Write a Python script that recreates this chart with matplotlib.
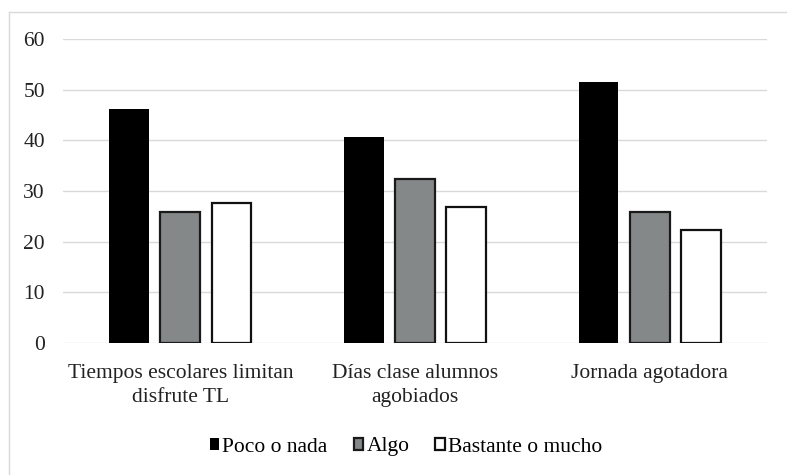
import numpy as np
import matplotlib.pyplot as plt
from matplotlib.lines import Line2D

# data
categories = ["Tiempos escolares limitan\ndisfrute TL", "Días clase alumnos\nagobiados", "Jornada agotadora"]
series = ["Poco o nada", "Algo", "Bastante o mucho"]
poco = [46.1, 40.7, 51.5]
algo = [25.8, 32.3, 25.8]
bastante = [27.6, 26.8, 22.4]

plt.rcParams['font.family'] = ['Liberation Serif', 'DejaVu Serif']

fig = plt.figure(figsize=(7.87, 4.75), dpi=100)
ax = fig.add_axes([63 / 787, 1 - 343 / 475, (767 - 63) / 787, (343 - 39) / 475])

x = np.arange(len(categories))
width = 0.17
step = 0.218
ax.bar(x - step, poco, width, color='black', edgecolor='black', linewidth=0, label=series[0], zorder=3)
ax.bar(x, algo, width, color='#858889', edgecolor='#1a1a1a', linewidth=1.6, label=series[1], zorder=3)
ax.bar(x + step, bastante, width, color='white', edgecolor='#111111', linewidth=1.6, label=series[2], zorder=3)

ax.set_xlim(-0.5, 2.5)
ax.set_ylim(0, 60)
ax.set_yticks(range(0, 61, 10))
ax.yaxis.grid(True, color='#d9d9d9', linewidth=1.0, zorder=0)
for s in ['top', 'right', 'left', 'bottom']:
    ax.spines[s].set_visible(False)
ax.tick_params(axis='both', length=0, labelsize=15.5, colors='#222222')
ax.tick_params(axis='y', pad=13)
ax.set_xticks(x)
ax.set_xticklabels(categories, linespacing=1.35)
ax.tick_params(axis='x', pad=15)

handles, labels = ax.get_legend_handles_labels()
fig.legend(handles, labels, loc='center', bbox_to_anchor=(406 / 787, 1 - 447 / 475), ncol=3,
           frameon=False, fontsize=15.5, handlelength=0.45, handleheight=0.45,
           handletextpad=0.15, columnspacing=1.2)

# light border lines (top and left edges of the chart frame)
fig.add_artist(Line2D([8.5 / 787, 1], [1 - 12 / 475, 1 - 12 / 475], color='#d9d9d9', linewidth=1.0))
fig.add_artist(Line2D([8.5 / 787, 8.5 / 787], [0, 1 - 12 / 475], color='#d9d9d9', linewidth=1.0))

plt.savefig('out.png', dpi=100)
